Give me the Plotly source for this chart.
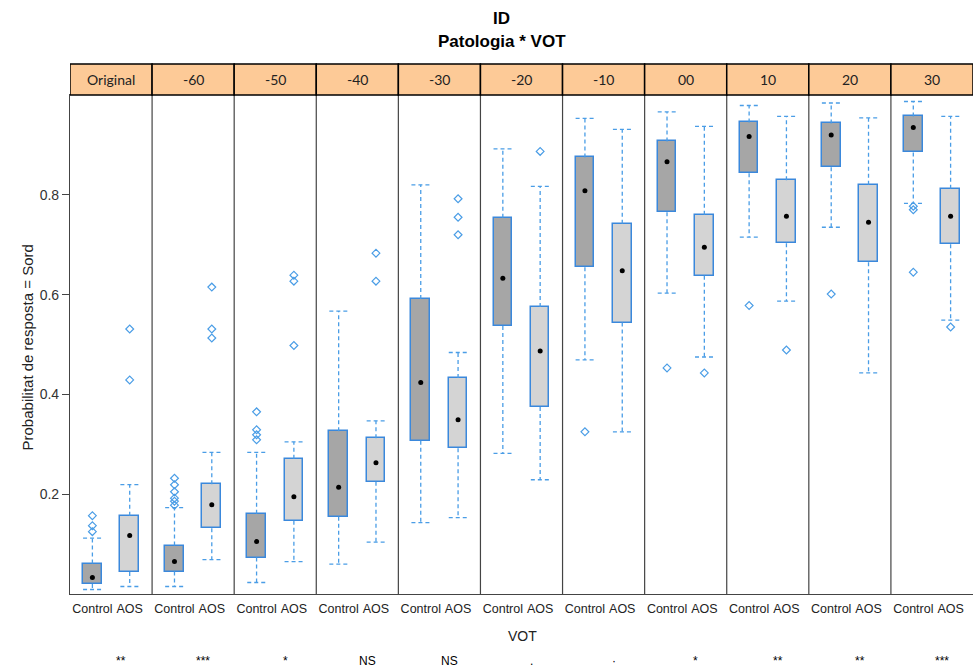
import plotly.graph_objects as go

# ---------------- data ----------------
vot_labels = ["Original", "-60", "-50", "-40", "-30", "-20", "-10", "00", "10", "20", "30"]
groups = ["Control", "AOS"]
signif = ["**", "***", "*", "NS", "NS", ".", "·", "*", "**", "**", "***"]

ctrl_lo  = [0.009, 0.015, 0.023, 0.060, 0.143, 0.282, 0.469, 0.603, 0.715, 0.735, 0.783]
ctrl_q1  = [0.020, 0.045, 0.073, 0.155, 0.307, 0.537, 0.655, 0.765, 0.843, 0.855, 0.885]
ctrl_med = [0.033, 0.065, 0.105, 0.214, 0.424, 0.633, 0.808, 0.866, 0.917, 0.920, 0.935]
ctrl_q3  = [0.061, 0.097, 0.161, 0.326, 0.591, 0.754, 0.875, 0.907, 0.945, 0.943, 0.957]
ctrl_hi  = [0.112, 0.173, 0.284, 0.567, 0.820, 0.892, 0.953, 0.966, 0.979, 0.984, 0.987]
ctrl_out = [[0.157, 0.137, 0.125], [0.232, 0.219, 0.205, 0.192, 0.186, 0.178],
            [0.365, 0.329, 0.319, 0.309], [], [], [], [0.325], [0.453], [0.578], [0.601],
            [0.777, 0.770, 0.645]]

aos_lo  = [0.015, 0.069, 0.065, 0.104, 0.153, 0.229, 0.325, 0.475, 0.587, 0.443, 0.549]
aos_q1  = [0.044, 0.132, 0.147, 0.225, 0.292, 0.375, 0.544, 0.638, 0.703, 0.665, 0.701]
aos_med = [0.117, 0.179, 0.195, 0.263, 0.349, 0.487, 0.648, 0.695, 0.757, 0.745, 0.757]
aos_q3  = [0.157, 0.220, 0.271, 0.312, 0.433, 0.575, 0.742, 0.760, 0.829, 0.820, 0.812]
aos_hi  = [0.219, 0.284, 0.305, 0.347, 0.484, 0.817, 0.931, 0.937, 0.957, 0.954, 0.957]
aos_out = [[0.429, 0.531], [0.615, 0.531, 0.513], [0.639, 0.627, 0.498], [0.683, 0.627],
           [0.792, 0.755, 0.720], [0.887], [], [0.443], [0.489], [], [0.535]]

y_ticks = [0.2, 0.4, 0.6, 0.8]

# ---------------- styling ----------------
PW = 2.2          # panel width in x units
OFF = [0.6, 1.6]  # category positions in a panel
BW = 0.5          # box width
BOX_LINE = "#3A88DC"
WHISK = "#4A9DE6"
FILLS = ["#A6A6A6", "#D4D4D4"]
STRIP = "#FDCA97"

fig = go.Figure()

series = [
    (ctrl_lo, ctrl_q1, ctrl_med, ctrl_q3, ctrl_hi, ctrl_out),
    (aos_lo, aos_q1, aos_med, aos_q3, aos_hi, aos_out),
]

tickvals, ticktext = [], []
for i in range(len(vot_labels)):
    for g in range(2):
        tickvals.append(i * PW + OFF[g])
        ticktext.append(groups[g])

for g, (lo, q1, med, q3, hi, out) in enumerate(series):
    xs = [i * PW + OFF[g] for i in range(len(vot_labels))]
    # whiskers
    wx, wy, cx, cy = [], [], [], []
    for k, c in enumerate(xs):
        wx += [c, c, None, c, c, None]
        wy += [q3[k], hi[k], None, q1[k], lo[k], None]
        cx += [c - BW / 2, c + BW / 2, None, c - BW / 2, c + BW / 2, None]
        cy += [hi[k], hi[k], None, lo[k], lo[k], None]
    fig.add_trace(go.Scatter(x=wx, y=wy, mode="lines", line=dict(color=WHISK, width=1.3, dash="4px,3px"),
                             hoverinfo="skip", showlegend=False))
    fig.add_trace(go.Scatter(x=cx, y=cy, mode="lines", line=dict(color=WHISK, width=1.3, dash="4px,3px"),
                             hoverinfo="skip", showlegend=False))
    # boxes
    fig.add_trace(go.Bar(x=xs, y=[q3[k] - q1[k] for k in range(len(xs))], base=q1, width=BW,
                         marker=dict(color=FILLS[g], line=dict(color=BOX_LINE, width=1.5)),
                         showlegend=False, name=groups[g]))
    # medians
    fig.add_trace(go.Scatter(x=xs, y=med, mode="markers", marker=dict(color="black", size=5),
                             showlegend=False))
    # outliers
    ox, oy = [], []
    for k, c in enumerate(xs):
        for v in out[k]:
            ox.append(c)
            oy.append(v)
    fig.add_trace(go.Scatter(x=ox, y=oy, mode="markers",
                             marker=dict(symbol="diamond-open", color=WHISK, size=6, line=dict(width=1.2)),
                             showlegend=False))

shapes = []
n = len(vot_labels)
for i in range(1, n):
    shapes.append(dict(type="line", xref="x", yref="paper", x0=i * PW, x1=i * PW, y0=0, y1=1,
                       line=dict(color="#444444", width=1.2)))
strip_top = 1.062
for i in range(n):
    shapes.append(dict(type="rect", xref="x", yref="paper", x0=i * PW, x1=(i + 1) * PW,
                       y0=1, y1=strip_top, fillcolor=STRIP, line=dict(color="black", width=1.5), layer="above"))

annotations = []
for i, lab in enumerate(vot_labels):
    annotations.append(dict(x=i * PW + PW / 2, y=(1 + strip_top) / 2, xref="x", yref="paper",
                            text=lab, showarrow=False, yanchor="middle",
                            font=dict(family="Lato, Noto Sans, sans-serif", size=14, color="#222")))
    annotations.append(dict(x=i * PW + PW / 2 + 0.27, y=-0.134, xref="x", yref="paper",
                            text=signif[i], showarrow=False, yanchor="middle",
                            font=dict(family="Liberation Sans, Arial", size=12, color="black")))
annotations += [
    dict(x=0.478, y=1.154, xref="paper", yref="paper", text="<b>ID</b>", showarrow=False,
         font=dict(family="Liberation Sans, Arial", size=17, color="black"), yanchor="middle"),
    dict(x=0.478, y=1.108, xref="paper", yref="paper", text="<b>Patologia * VOT</b>", showarrow=False,
         font=dict(family="Liberation Sans, Arial", size=17, color="black"), yanchor="middle"),
    dict(x=-0.0576, y=0.495, xref="paper", yref="paper", text="Probabilitat de resposta = Sord",
         textangle=-90, showarrow=False, font=dict(family="Liberation Sans, Arial", size=15, color="#222")),
    dict(x=0.5006, y=-0.084, xref="paper", yref="paper", text="VOT", showarrow=False, yanchor="middle",
         font=dict(family="Liberation Sans, Arial", size=14, color="#222")),
]

fig.update_layout(
    width=973, height=671,
    margin=dict(l=70, r=0, t=95, b=77),
    paper_bgcolor="white", plot_bgcolor="white",
    barmode="overlay", bargap=0,
    shapes=shapes, annotations=annotations,
    xaxis=dict(range=[0, n * PW], tickvals=tickvals, ticktext=ticktext, showgrid=False, zeroline=False,
               showline=True, mirror=True, linecolor="#444444", linewidth=1.2,
               ticks="outside", ticklen=3, tickcolor="rgba(0,0,0,0)",
               tickfont=dict(family="Liberation Sans, Arial", size=12.5, color="#222")),
    yaxis=dict(range=[0, 1], tickvals=y_ticks, ticktext=[f"{v:.1f}" for v in y_ticks],
               showgrid=False, zeroline=False, showline=True, mirror=True,
               linecolor="#444444", linewidth=1.2, ticks="outside", ticklen=7, tickcolor="#444444",
               tickfont=dict(family="Liberation Sans, Arial", size=14, color="#333")),
)

fig.write_html("out.html")
